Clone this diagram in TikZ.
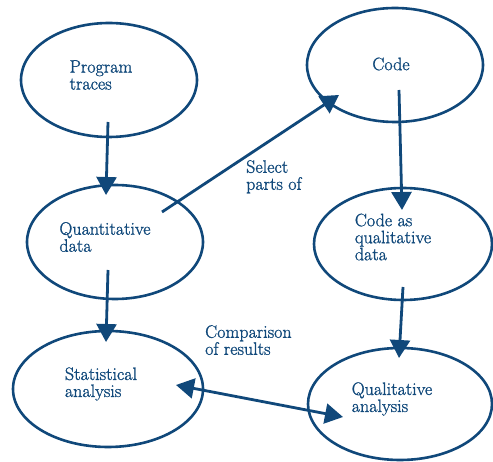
\documentclass[tikz,border=0pt]{standalone}
\usepackage{fontspec}
\newfontfamily\inkfont[FakeBold=1.2]{Latin Modern Roman}
\usetikzlibrary{shapes.geometric, arrows.meta, positioning, calc}
\definecolor{inkblue}{RGB}{16,72,122}

\begin{document}
\begin{tikzpicture}[x=1pt, y=1pt,
  bubble/.style={draw=inkblue, ellipse, line width=2.6pt, inner sep=0pt,
    minimum width=176pt, minimum height=114pt},
  note/.style={align=left, inner sep=0pt, text=inkblue,
    font=\inkfont\fontsize{18}{17}\selectfont},
  arr/.style={draw=inkblue, line width=2.8pt, -{Triangle[width=20pt,length=18pt]}},
  dbl/.style={arr, {Triangle[width=20pt,length=18pt]}-{Triangle[width=20pt,length=18pt]}}
]
\useasboundingbox (0,0) rectangle (493,461);

% ellipses
\node[bubble] (traces) at (109,381) {};
\node[bubble] (code) at (395,396) {};
\node[bubble] (quant) at (115,219) {};
\node[bubble, minimum width=178pt, minimum height=112pt] (qualdata) at (403,217) {};
\node[bubble, minimum width=190pt, minimum height=116pt] (stat) at (108,72) {};
\node[bubble, minimum width=184pt, minimum height=112pt] (qual) at (400,57) {};

% their texts
\node[note] (tracestext) at ($(traces.center)+(-8,5)$) {Program\\traces};
\node[note] (codetext) at ($(code.center)+(-4,1)$) {Code};
\node[note] (quanttext) at ($(quant.center)+(-10,5)$) {Quantitative\\data};
\node[note] (qualdatatext) at ($(qualdata.center)+(-10,7)$) {Code as\\qualitative\\data};
\node[note] (stattext) at ($(stat.center)+(-7,5)$) {Statistical\\analysis};
\node[note] (qualtext) at ($(qual.center)+(-8,5)$) {Qualitative\\analysis};

\node[note, anchor=north west] (select) at (246,301) {Select\\parts of};
\node[note, anchor=north west] (compare) at (205,136) {Comparison\\of results};

\draw[arr] ($(traces.center)+(-1,-42)$) -- ($(quant.center)+(-9,47)$);
\draw[arr] ($(quant.center)+(47,30)$) -- ($(code.center)+(-56,-30)$);
\draw[arr] ($(code.center)+(4,-25)$) -- ($(qualdata.center)+(-1,34)$);
\draw[arr] ($(qualdata.center)+(0,-43)$) -- ($(qual.center)+(-1,46)$);
\draw[arr] ($(quant.center)+(-7,-28)$) -- ($(stat.center)+(-2,47)$);
\draw[dbl] ($(stat.center)+(68,4)$) -- ($(qual.center)+(-57,-13)$);
\end{tikzpicture}
\end{document}
